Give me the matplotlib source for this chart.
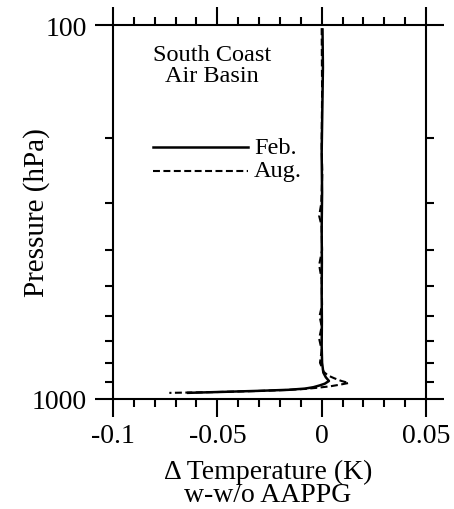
import matplotlib
matplotlib.use("Agg")
import matplotlib.pyplot as plt
from matplotlib.ticker import FixedLocator, NullFormatter

plt.rcParams['font.family'] = ['Liberation Serif', 'DejaVu Serif']
plt.rcParams['axes.unicode_minus'] = False
plt.rcParams['lines.scale_dashes'] = False

# Data (pressure in hPa, delta temperature in K)
p_feb = [102, 130, 170, 220, 280, 350, 430, 520, 620, 720, 800, 850, 875, 895,
         910, 920, 930, 938, 945, 951, 957, 963]
t_feb = [0.0004, 0.0006, 0.0003, 0.0, 0.0002, 0.0, 0.0001, 0.0, 0.0001, 0.0,
         0.0002, 0.0008, 0.002, 0.0035, 0.0015, -0.001, -0.004, -0.008,
         -0.016, -0.03, -0.047, -0.0646]

p_aug = [102, 150, 210, 250, 300, 324, 345, 400, 438, 480, 560, 600, 640, 690,
         740, 800, 846, 865, 880, 895, 906, 915, 925, 933, 940, 946, 952, 958, 963]
t_aug = [0.0, 0.0002, 0.0, 0.0003, -0.0002, -0.0012, 0.0, 0.0002, -0.0012, 0.0,
         0.0002, -0.0010, 0.0, -0.0012, 0.0, -0.0008, 0.001, 0.003, 0.006,
         0.0095, 0.013, 0.009, 0.004, -0.002, -0.008, -0.017, -0.031, -0.05, -0.073]

x_major = [-0.1, -0.05, 0, 0.05]
x_major_labels = ['-0.1', '-0.05', '0', '0.05']
x_minor = [-0.09, -0.08, -0.07, -0.06, -0.04, -0.03, -0.02, -0.01,
           0.01, 0.02, 0.03, 0.04]
y_major = [100, 1000]
y_major_labels = ['100', '1000']
y_minor = [200, 300, 400, 500, 600, 700, 800, 900]

fig = plt.figure(figsize=(4.54, 5.10), dpi=100)
ax = fig.add_axes([113/454, 1-400/510, (426-113)/454, (400-26)/510])

ax.plot(t_feb, p_feb, color='black', lw=1.8, solid_capstyle='butt')
ax.plot(t_aug, p_aug, color='black', lw=1.5, dashes=(5, 2.5))

ax.set_yscale('log')
ax.set_ylim(1000, 100)
ax.set_xlim(-0.1, 0.05)

ax.xaxis.set_major_locator(FixedLocator(x_major))
ax.set_xticklabels(x_major_labels)
ax.xaxis.set_minor_locator(FixedLocator(x_minor))
ax.yaxis.set_major_locator(FixedLocator(y_major))
ax.set_yticklabels(y_major_labels)
ax.yaxis.set_minor_locator(FixedLocator(y_minor))
ax.yaxis.set_minor_formatter(NullFormatter())

ax.tick_params(which='both', direction='out', top=True, right=True,
               width=1.5, labelsize=20, colors='black')
ax.tick_params(which='major', length=13)
ax.tick_params(which='minor', length=6)
ax.tick_params(axis='y', which='major', pad=6)
ax.tick_params(axis='x', which='major', pad=4)
for s in ax.spines.values():
    s.set_linewidth(1.5)

fig.text(37/454, 1-213/510, 'Pressure (hPa)', rotation=90, ha='center',
         va='center', fontsize=21)

fig.text(268/454, 1-479/510, 'Δ Temperature (K)', ha='center', va='baseline', fontsize=20)
fig.text(268/454, 1-502/510, 'w-w/o AAPPG', ha='center', va='baseline', fontsize=20)

ax.text(212/454, 1-61/510, 'South Coast', transform=fig.transFigure,
        ha='center', va='baseline', fontsize=17.5)
ax.text(212/454, 1-82/510, 'Air Basin', transform=fig.transFigure,
        ha='center', va='baseline', fontsize=17.5)

# legend
leg_x0, leg_x1 = 153/454, 248/454
ax.plot([leg_x0, leg_x1], [1-148/510, 1-148/510], transform=fig.transFigure,
        color='black', lw=1.8, clip_on=False)
ax.plot([leg_x0, leg_x1], [1-172/510, 1-172/510], transform=fig.transFigure,
        color='black', lw=1.5, dashes=(5, 2.5), clip_on=False)
ax.text(254/454, 1-148/510, 'Feb.', transform=fig.transFigure,
        ha='left', va='center', fontsize=17.5)
ax.text(254/454, 1-172/510, 'Aug.', transform=fig.transFigure,
        ha='left', va='center', fontsize=17.5)

fig.savefig('out.png', dpi=100)
